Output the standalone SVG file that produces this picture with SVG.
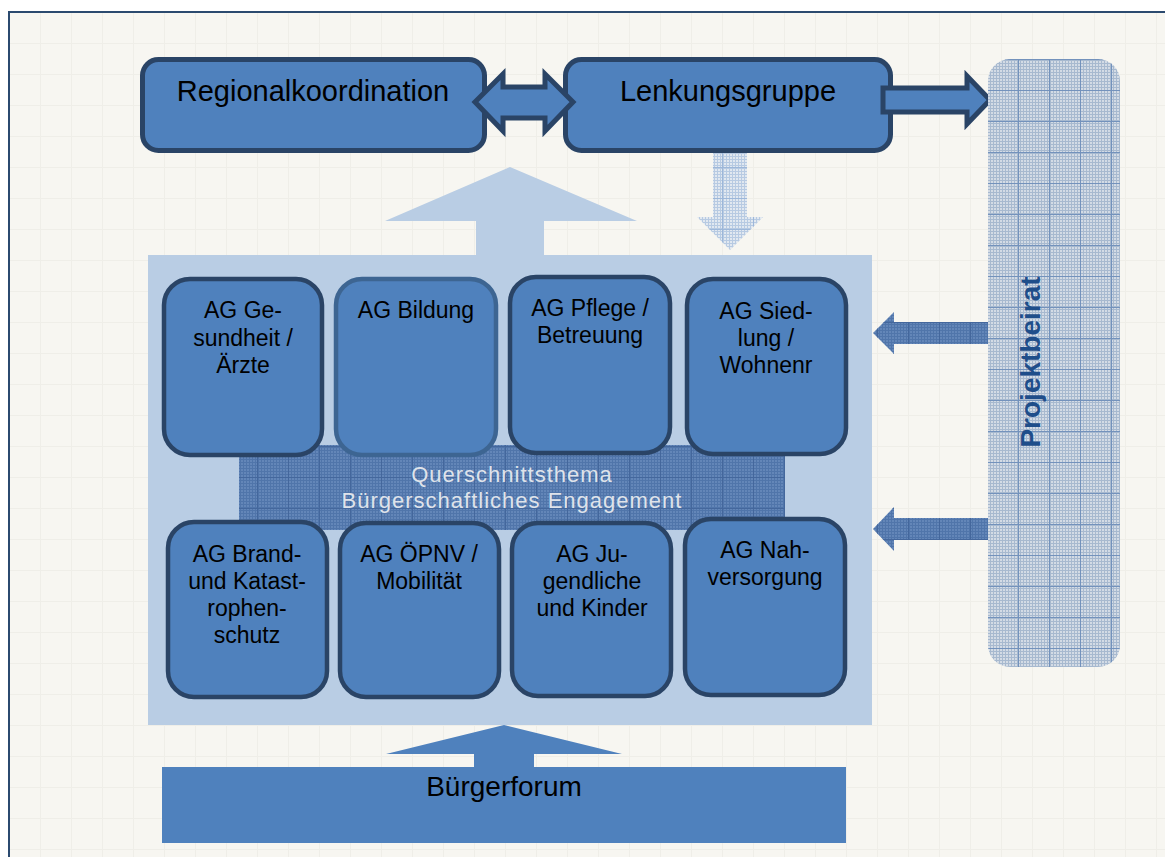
<svg xmlns="http://www.w3.org/2000/svg" width="1165" height="857" viewBox="0 0 1165 857">
  <defs>
    <style>
      .box { fill: #4f81bd; stroke: #2a4466; stroke-width: 4.5; }
      .boxSoft { fill: #4f81bd; stroke: #3d6592; stroke-width: 4.5; }
      .head { fill: #4f81bd; stroke: #2a4466; stroke-width: 5; }
      .lbl { font-family: "Liberation Sans", Arial, sans-serif; fill: #000; text-anchor: middle; }
      .ag { font-size: 23px; }
      .big { font-size: 29px; }
      .band { font-family: "Liberation Sans", Arial, sans-serif; font-size: 22px; letter-spacing: 1px; fill: #dfe3ea; text-anchor: middle; }
      .side { font-family: "Liberation Sans", Arial, sans-serif; font-size: 28px; font-weight: bold; fill: #1f4e8a; text-anchor: middle; }
    </style>
    <!-- page grid -->
    <pattern id="pageGrid" width="31" height="31" x="9" y="12" patternUnits="userSpaceOnUse">
      <rect width="31" height="31" fill="#f7f6f1"/>
      <path d="M0 0.5H31M0.5 0V31" stroke="#efeee8" stroke-width="1" fill="none"/>
    </pattern>
    <!-- fine meshes -->
    <pattern id="meshLight" width="3" height="3" patternUnits="userSpaceOnUse">
      <rect width="3" height="3" fill="#d3dbe5"/>
      <path d="M0 0.5H3M0.5 0V3" stroke="#a7b9cf" stroke-width="1"/>
    </pattern>
    <pattern id="majorLight" width="31" height="31" x="1018" y="90" patternUnits="userSpaceOnUse">
      <path d="M0 0.5H31M0.5 0V31" stroke="#7392bc" stroke-width="1" fill="none"/>
    </pattern>
    <pattern id="meshPale" width="3" height="3" patternUnits="userSpaceOnUse">
      <rect width="3" height="3" fill="#e1e8f0"/>
      <path d="M0 0.5H3M0.5 0V3" stroke="#b7cae2" stroke-width="1"/>
    </pattern>
    <pattern id="majorPale" width="31" height="31" x="9" y="12" patternUnits="userSpaceOnUse">
      <path d="M0 0.5H31M0.5 0V31" stroke="#9db7d9" stroke-width="1" fill="none"/>
    </pattern>
    <pattern id="meshDark" width="3" height="3" patternUnits="userSpaceOnUse">
      <rect width="3" height="3" fill="#6386b8"/>
      <path d="M0 0.5H3M0.5 0V3" stroke="#5075aa" stroke-width="1"/>
    </pattern>
    <pattern id="majorDark" width="31" height="31" x="9" y="12" patternUnits="userSpaceOnUse">
      <path d="M0 0.5H31M0.5 0V31" stroke="#44679c" stroke-width="1" fill="none"/>
    </pattern>
  </defs>

  <!-- page -->
  <rect x="0" y="0" width="1165" height="857" fill="#ffffff"/>
  <rect x="8" y="11" width="1170" height="860" fill="url(#pageGrid)"/>
  <rect x="9" y="12" width="1170" height="860" fill="none" stroke="#2b4a6f" stroke-width="2"/>

  <!-- working group frame -->
  <g id="container">
    <rect x="148" y="255" width="724" height="470" fill="#b9cde4"/>
  </g>

  <g id="connectors">
    <!-- upward flow from working groups -->
    <polygon points="510,167 637,221 544,221 544,256 476,256 476,221 385,221" fill="#b9cde4"/>
    <!-- downward flow from steering group -->
    <polygon points="713,153 747,153 747,217 763,217 730,250 697,217 713,217" fill="url(#meshPale)"/>
    <polygon points="713,153 747,153 747,217 763,217 730,250 697,217 713,217" fill="url(#majorPale)"/>
    <!-- advisory board arrows -->
    <polygon points="873,333 894,312 894,322 988,322 988,344 894,344 894,354" fill="url(#meshDark)"/>
    <polygon points="873,333 894,312 894,322 988,322 988,344 894,344 894,354" fill="url(#majorDark)"/>
    <polygon points="873,529 894,507 894,518 988,518 988,540 894,540 894,551" fill="url(#meshDark)"/>
    <polygon points="873,529 894,507 894,518 988,518 988,540 894,540 894,551" fill="url(#majorDark)"/>
    <!-- forum arrow -->
    <polygon points="504,725 622,754 534,754 534,767 474,767 474,754 386,754" fill="#4f81bd"/>
  </g>

  <g id="querschnitt">
    <rect x="239" y="445" width="546" height="85" fill="url(#meshDark)"/>
    <rect x="239" y="445" width="546" height="85" fill="url(#majorDark)"/>
    <text class="band" x="512" y="482">Querschnittsthema</text>
    <text class="band" x="512" y="508">Bürgerschaftliches Engagement</text>
  </g>

  <g id="regionalkoordination">
    <rect class="box" x="142.5" y="59.5" width="342" height="91" rx="16" style="stroke-width:5"/>
    <text class="lbl big" x="313" y="101">Regionalkoordination</text>
  </g>

  <g id="lenkungsgruppe">
    <rect class="box" x="565.5" y="59.5" width="325" height="91" rx="16" style="stroke-width:5"/>
    <text class="lbl big" x="728" y="101">Lenkungsgruppe</text>
  </g>

  <g id="arrows-top">
    <polygon class="head" points="475,102 503,74 503,87 545,87 545,74 573,102 545,131 545,118 503,118 503,131"/>
    <polygon class="head" points="883,88 967,88 967,76 990,100 967,124 967,112 883,112"/>
  </g>

  <g id="projektbeirat">
    <rect x="988" y="59" width="132" height="608" rx="22" fill="url(#meshLight)"/>
    <rect x="988" y="59" width="132" height="608" rx="22" fill="url(#majorLight)"/>
    <text class="side" transform="translate(1040,362) rotate(-90)">Projektbeirat</text>
  </g>

  <g id="ag-gesundheit">
    <rect class="box" x="164" y="279" width="158" height="176" rx="26"/>
    <text class="lbl ag" x="243" y="318">AG Ge-</text>
    <text class="lbl ag" x="243" y="346">sundheit /</text>
    <text class="lbl ag" x="243" y="373">Ärzte</text>
  </g>

  <g id="ag-bildung">
    <rect class="boxSoft" x="336" y="279" width="160" height="176" rx="26"/>
    <text class="lbl ag" x="416" y="318">AG Bildung</text>
  </g>

  <g id="ag-pflege">
    <rect class="box" x="510" y="277" width="160" height="176" rx="26"/>
    <text class="lbl ag" x="590" y="316">AG Pflege /</text>
    <text class="lbl ag" x="590" y="343">Betreuung</text>
  </g>

  <g id="ag-siedlung">
    <rect class="box" x="687" y="279" width="159" height="175" rx="26"/>
    <text class="lbl ag" x="766" y="319">AG Sied-</text>
    <text class="lbl ag" x="766" y="346">lung /</text>
    <text class="lbl ag" x="766" y="373">Wohnenr</text>
  </g>

  <g id="ag-brandschutz">
    <rect class="box" x="168" y="522" width="159" height="175" rx="26"/>
    <text class="lbl ag" x="247" y="562">AG Brand-</text>
    <text class="lbl ag" x="247" y="589">und Katast-</text>
    <text class="lbl ag" x="247" y="616">rophen-</text>
    <text class="lbl ag" x="247" y="643">schutz</text>
  </g>

  <g id="ag-oepnv">
    <rect class="box" x="340" y="523" width="159" height="174" rx="26"/>
    <text class="lbl ag" x="419" y="562">AG ÖPNV /</text>
    <text class="lbl ag" x="419" y="589">Mobilität</text>
  </g>

  <g id="ag-jugend">
    <rect class="box" x="512" y="523" width="159" height="173" rx="26"/>
    <text class="lbl ag" x="592" y="562">AG Ju-</text>
    <text class="lbl ag" x="592" y="589">gendliche</text>
    <text class="lbl ag" x="592" y="616">und Kinder</text>
  </g>

  <g id="ag-nahversorgung">
    <rect class="box" x="685" y="519" width="160" height="176" rx="26"/>
    <text class="lbl ag" x="765" y="558">AG Nah-</text>
    <text class="lbl ag" x="765" y="585">versorgung</text>
  </g>

  <g id="buergerforum">
    <rect x="162" y="767" width="684" height="76" fill="#4f81bd"/>
    <text class="lbl" x="504" y="796" style="font-size:28px">Bürgerforum</text>
  </g>
</svg>
